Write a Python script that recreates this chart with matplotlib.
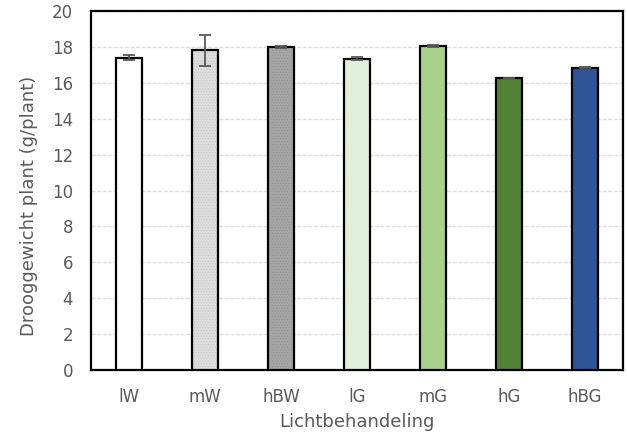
import matplotlib.pyplot as plt

plt.rcParams['font.family'] = ['DejaVu Sans']
plt.rcParams['hatch.linewidth'] = 0.3

labels = ['lW', 'mW', 'hBW', 'lG', 'mG', 'hG', 'hBG']
waarden = [17.4, 17.8, 18.0, 17.35, 18.05, 16.25, 16.85]
fouten = [0.15, 0.85, 0.04, 0.1, 0.05, 0.03, 0.04]
kleuren = ['#ffffff', '#dcdcdc', '#a5a5a5', '#e2efda', '#a9d18e', '#548235', '#2f5597']
# fijne stippels op de grijze balken
stip_kleuren = [None, '#c6c6c6', '#8f8f8f', None, None, None, None]

fig = plt.figure(figsize=(6.27, 4.34), dpi=100)
ax = fig.add_axes([91 / 627, 64 / 434, 532 / 627, 359 / 434])

x = list(range(len(labels)))
ax.bar(x, waarden, width=0.33, color=kleuren, edgecolor='none', zorder=3)
for i, sk in enumerate(stip_kleuren):
    if sk:
        ax.bar(x[i], waarden[i], width=0.33, color='none', edgecolor=sk,
               hatch='......', linewidth=0, zorder=3.5)
ax.bar(x, waarden, width=0.33, color='none', edgecolor='black', linewidth=1.6, zorder=4)
ax.errorbar(x, waarden, yerr=fouten, fmt='none', ecolor='#595959', elinewidth=1.3,
            capsize=4, capthick=1.3, zorder=5)

ax.set_xlim(-0.5, 6.5)
ax.set_ylim(0, 20)
ax.set_yticks(range(0, 21, 2))
ax.set_xticks(x)
ax.set_xticklabels(labels)
ax.yaxis.grid(True, color='#dedede', linewidth=1, linestyle=(0, (3, 1)), zorder=0)
ax.tick_params(axis='both', length=0, labelsize=12, labelcolor='#595959')
ax.tick_params(axis='y', pad=13)
ax.tick_params(axis='x', pad=13)
for s in ax.spines.values():
    s.set_color('black')
    s.set_linewidth(1.6)

fig.text(357 / 627, 1 - 422 / 434, 'Lichtbehandeling', fontsize=13, color='#595959',
         ha='center', va='center')
fig.text(29 / 627, 1 - 206 / 434, 'Drooggewicht plant (g/plant)', fontsize=13,
         color='#595959', rotation=90, ha='center', va='center')

fig.savefig('out.png', dpi=100)
